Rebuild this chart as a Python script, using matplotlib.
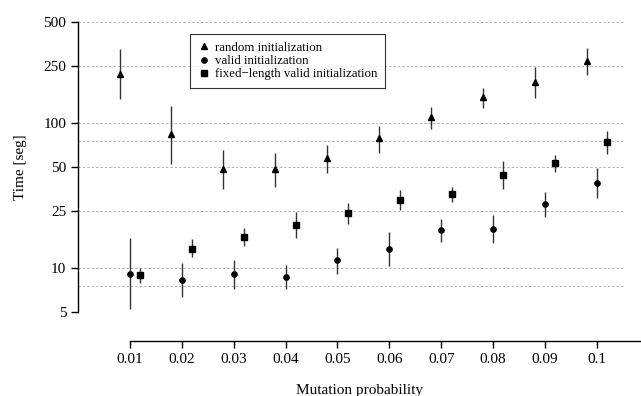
import matplotlib
matplotlib.use("Agg")
import matplotlib.pyplot as plt
from matplotlib.lines import Line2D
import numpy as np

plt.rcParams['font.family'] = ['Liberation Serif', 'DejaVu Serif']

# mutation probabilities
probs = [0.01, 0.02, 0.03, 0.04, 0.05, 0.06, 0.07, 0.08, 0.09, 0.1]

# random initialization (mean, upper, lower) in seconds
rand_mid = [219, 84.5, 48.5, 48.5, 57.7, 79, 110.7, 152, 193, 269]
rand_hi = [326, 132, 65.5, 62.5, 71, 96, 130, 175, 245, 331]
rand_lo = [147, 52.5, 35, 36.4, 45.5, 62.5, 91.5, 128, 150, 215]

# valid initialization
valid_mid = [9.2, 8.3, 9.1, 8.7, 11.4, 13.7, 18.3, 18.8, 27.7, 38.6]
valid_hi = [16.1, 10.9, 11.4, 10.5, 13.9, 17.8, 21.8, 23.4, 33.4, 49]
valid_lo = [5.25, 6.3, 7.2, 7.2, 9.2, 10.4, 15.2, 14.9, 22.7, 30.4]

# fixed-length valid initialization
fixed_mid = [9.0, 13.7, 16.4, 19.8, 24, 29.5, 32.4, 43.9, 53, 74]
fixed_hi = [10, 15.9, 18.9, 24.5, 28.4, 34.7, 36.6, 55, 60.5, 89]
fixed_lo = [7.9, 12, 14.2, 16.3, 20.2, 25.2, 28.8, 35, 46, 61.5]

ytick_vals = [5, 10, 25, 50, 100, 250, 500]
grid_vals = [5, 7.5, 10, 25, 50, 75, 100, 250, 500]

fig = plt.figure(figsize=(6.41, 3.96), dpi=100)
ax = fig.add_axes([78/641, 1-312/396, 1-78/641, 290/396])

x = np.array(probs)
ax.set_yscale('log')
ax.set_xlim(0.0, 0.1085)
ax.set_ylim(5, 500)

ax.hlines(grid_vals, 0.0, 0.105, colors='#b4b4b4', linestyles=(0, (2.5, 2)),
          linewidth=0.7, zorder=0)

def draw(xs, mid, hi, lo, marker, ms):
    mid = np.array(mid)
    err = [mid - np.array(lo), np.array(hi) - mid]
    ax.errorbar(xs, mid, yerr=err, fmt=marker, color='black', ms=ms,
                ecolor='#333333', elinewidth=1.0, capsize=0)

draw(x - 0.002, rand_mid, rand_hi, rand_lo, '^', 4.5)
draw(x, valid_mid, valid_hi, valid_lo, 'o', 3.8)
draw(x + 0.002, fixed_mid, fixed_hi, fixed_lo, 's', 4.3)

ax.set_yticks(ytick_vals)
ax.set_yticklabels([str(v) for v in ytick_vals])
ax.yaxis.set_minor_locator(matplotlib.ticker.NullLocator())
ax.set_xticks(probs)
ax.set_xticklabels([('%g' % p) for p in probs])
ax.tick_params(labelsize=11, length=5, width=1, color='black')

for s in ['top', 'right']:
    ax.spines[s].set_visible(False)
ax.spines['left'].set_bounds(5, 500)
ax.spines['bottom'].set_position(('outward', 21))
ax.spines['bottom'].set_bounds(0.01, 0.1085)
ax.spines['left'].set_linewidth(1)
ax.spines['bottom'].set_linewidth(1)

ax.set_xlabel('Mutation probability', fontsize=11, labelpad=13)
ax.set_ylabel('Time [seg]', fontsize=11, labelpad=12)

handles = [
    Line2D([], [], marker='^', ls='none', color='black', ms=4.5),
    Line2D([], [], marker='o', ls='none', color='black', ms=3.8),
    Line2D([], [], marker='s', ls='none', color='black', ms=4.3),
]
leg = ax.legend(handles, ['random initialization', 'valid initialization',
                          'fixed\u2212length valid initialization'],
                loc='upper left', bbox_to_anchor=(0.199, 0.9586),
                borderaxespad=0, fontsize=9.3, frameon=True, fancybox=False,
                handletextpad=0.35, handlelength=1.0, labelspacing=0.1,
                borderpad=0.6)
leg.get_frame().set_edgecolor('black')
leg.get_frame().set_linewidth(0.8)

fig.savefig('out.png', dpi=100)
